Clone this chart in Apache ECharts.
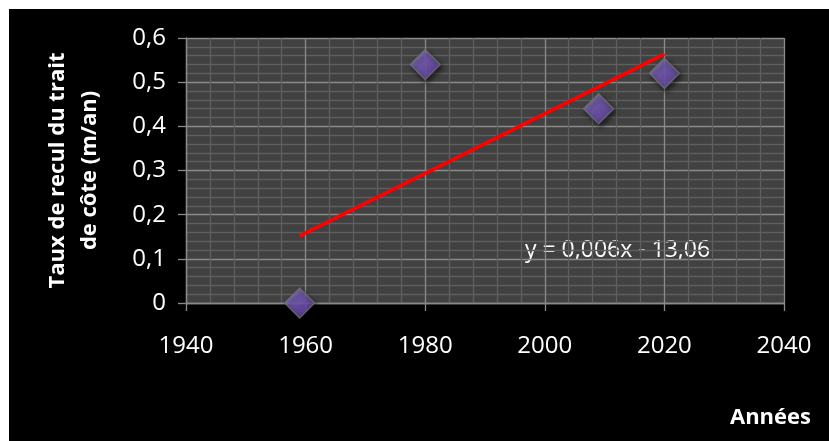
<!DOCTYPE html>
<html>
<head>
<meta charset="utf-8">
<script src="https://cdn.jsdelivr.net/npm/echarts@6/dist/echarts.min.js"></script>
<style>
  html, body { margin: 0; padding: 0; background: #ffffff; }
  #chart { position: absolute; left: 9px; top: 9px; width: 820px; height: 432px; }
</style>
</head>
<body>
<div id="chart"></div>
<script>
// Observed shoreline retreat rates (m/an) by year
const years = [1959, 1980, 2009, 2020];
const rates = [0.0, 0.54, 0.44, 0.52];

// Linear trend line end points
const trendYears = [1959, 2020];
const trendRates = [0.152, 0.564];

// Axis ticks
const xTicks = [1940, 1960, 1980, 2000, 2020, 2040];
const yTicks = [0, 0.1, 0.2, 0.3, 0.4, 0.5, 0.6];

const equationText = 'y = 0,006x - 13,06';
const yTitle = 'Taux de recul du trait\nde côte (m/an)';
const xTitle = 'Années';

const FONT = '"Open Sans", "Noto Sans", sans-serif';

const points = years.map((y, i) => [y, rates[i]]);
const trend = trendYears.map((y, i) => [y, trendRates[i]]);

const chart = echarts.init(document.getElementById('chart'), null, { renderer: 'canvas' });

const axisLineStyle = { color: '#8a8a8a', width: 1.3 };

chart.setOption({
  backgroundColor: '#000000',
  animation: false,
  grid: {
    left: 177, top: 29, right: 45, bottom: 138,
    show: true, backgroundColor: '#414141', borderWidth: 0
  },
  xAxis: {
    type: 'value',
    min: xTicks[0], max: xTicks[xTicks.length - 1], interval: 20,
    axisLine: { show: true, onZero: false, lineStyle: axisLineStyle },
    axisTick: { show: true, length: 8, lineStyle: axisLineStyle },
    axisLabel: {
      color: '#ffffff', fontFamily: FONT, fontSize: 24, margin: 31,
      formatter: v => String(v)
    },
    splitLine: { show: true, lineStyle: { color: '#8a8a8a', width: 1.3 } },
    minorTick: { show: false, splitNumber: 5 },
    minorSplitLine: { show: true, lineStyle: { color: '#5e5e5e', width: 1.3 } }
  },
  yAxis: {
    type: 'value',
    min: yTicks[0], max: yTicks[yTicks.length - 1], interval: 0.1,
    name: yTitle,
    nameLocation: 'middle',
    nameRotate: 90,
    nameGap: 80,
    nameTextStyle: {
      color: '#ffffff', fontFamily: FONT, fontWeight: 'bold', fontSize: 22,
      lineHeight: 32, align: 'center'
    },
    axisLine: { show: true, lineStyle: axisLineStyle },
    axisTick: { show: true, length: 8, lineStyle: axisLineStyle },
    axisLabel: {
      color: '#ffffff', fontFamily: FONT, fontSize: 24, margin: 20,
      formatter: v => (Math.round(v * 10) / 10).toString().replace('.', ',')
    },
    splitLine: { show: true, lineStyle: { color: '#8a8a8a', width: 1.3 } },
    minorTick: { show: false, splitNumber: 5 },
    minorSplitLine: { show: true, lineStyle: { color: '#5e5e5e', width: 1.3 } }
  },
  series: [
    {
      type: 'scatter',
      data: points,
      symbol: 'diamond',
      symbolSize: [30, 30],
      z: 3,
      itemStyle: {
        color: {
          type: 'linear', x: 0, y: 0, x2: 1, y2: 1,
          colorStops: [
            { offset: 0, color: '#a088e0' },
            { offset: 0.5, color: '#7a5cc0' },
            { offset: 1, color: '#5c409a' }
          ]
        },
        borderColor: '#6e6e6e',
        borderWidth: 1.5,
        shadowBlur: 5,
        shadowColor: 'rgba(0,0,0,0.7)',
        shadowOffsetX: 2,
        shadowOffsetY: 3
      }
    },
    {
      type: 'line',
      data: trend,
      symbol: 'none',
      z: 4,
      lineStyle: { color: '#ff0000', width: 3.5 }
    }
  ],
  graphic: [
    {
      type: 'text',
      left: 516, top: 230,
      style: {
        text: equationText,
        fill: '#ffffff',
        font: '23px ' + FONT
      }
    },
    {
      type: 'text',
      right: 18, top: 398,
      style: {
        text: xTitle,
        fill: '#ffffff',
        font: 'bold 22px ' + FONT
      }
    }
  ]
});
</script>
</body>
</html>
